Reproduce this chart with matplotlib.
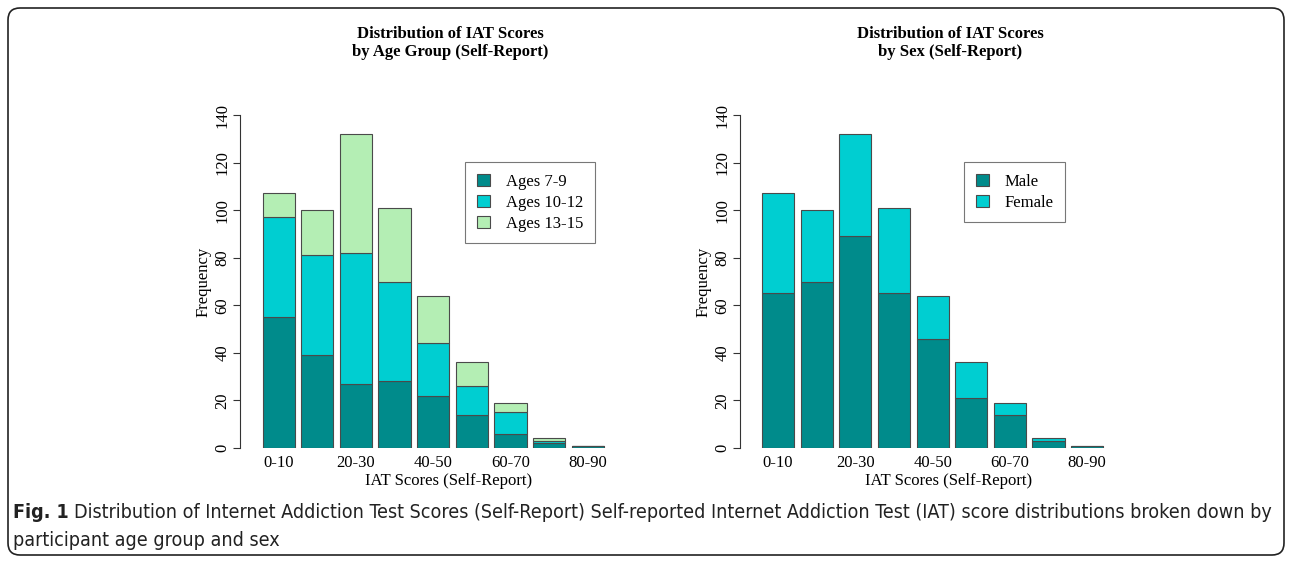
import matplotlib
matplotlib.use("Agg")
import matplotlib.pyplot as plt
from matplotlib.patches import FancyBboxPatch, Patch
import numpy as np

# ---- data ----
bins = ["0-10", "10-20", "20-30", "30-40", "40-50", "50-60", "60-70", "70-80", "80-90"]
age_7_9 = [55, 39, 27, 28, 22, 14, 6, 2, 1]
age_10_12 = [42, 42, 55, 42, 22, 12, 9, 1, 0]
age_13_15 = [10, 19, 50, 31, 20, 10, 4, 1, 0]
male = [65, 70, 89, 65, 46, 21, 14, 3, 1]
female = [42, 30, 43, 36, 18, 15, 5, 1, 0]
yticks = [0, 20, 40, 60, 80, 100, 120, 140]

C_DARK = "#008B8B"
C_CYAN = "#00CED1"
C_GREEN = "#B4EEB4"
EDGE = "#4a4a4a"

W, H = 1292, 563
fig = plt.figure(figsize=(W / 100, H / 100), dpi=100)
fig.patch.set_facecolor("white")

serif = ["Liberation Serif", "DejaVu Serif"]
FS = 12

def px_axes(x0, x1, ytop, ybot):
    return fig.add_axes([x0 / W, 1 - ybot / H, (x1 - x0) / W, (ybot - ytop) / H])

ppu = 32.2  # pixels per bar unit

def setup(ax, axis_px, first_bar_px, right_px, title):
    xl = 0.2 - (first_bar_px - axis_px) / ppu
    xr = 0.2 + (right_px - first_bar_px) / ppu
    ax.set_xlim(xl, xr)
    ax.set_ylim(0, 140)
    for s in ["top", "right", "bottom"]:
        ax.spines[s].set_visible(False)
    ax.spines["left"].set_color("#333333")
    ax.spines["left"].set_linewidth(0.8)
    ax.set_yticks(yticks)
    ax.set_yticklabels([str(t) for t in yticks], rotation=90, va="center",
                       family=serif, fontsize=FS, fontweight="normal")
    ax.tick_params(axis="y", length=5, width=0.8, color="#333333", pad=2)
    pos = 0.7 + 1.2 * np.arange(len(bins))
    shown = [i for i in range(len(bins)) if i % 2 == 0]
    ax.set_xticks(pos[shown])
    ax.set_xticklabels([bins[i] for i in shown], family=serif, fontsize=FS,
                       fontweight="normal")
    ax.tick_params(axis="x", length=0, pad=5)
    ax.set_ylabel("Frequency", family=serif, fontsize=FS, fontweight="normal")
    ax.set_xlabel("IAT Scores (Self-Report)", family=serif, fontsize=FS,
                  fontweight="normal")
    wpx = right_px - axis_px
    ax.yaxis.set_label_coords(-28 / wpx, 0.5)
    ax.xaxis.set_label_coords(209 / wpx, -(473 - 448) / 333)
    ax.text(210 / wpx, (448 - 43) / 333, title, transform=ax.transAxes, ha="center",
            va="center", family=serif, fontsize=FS, fontweight="bold",
            linespacing=1.25)
    return pos

leg_kw = dict(loc="upper left", borderaxespad=0, fancybox=False,
              edgecolor="#555555", prop={"family": serif, "size": FS},
              handlelength=0.8, handleheight=0.75, handletextpad=0.95,
              labelspacing=0.3, borderpad=0.7)

# ---- left chart ----
axL = px_axes(240, 644, 115, 448)
pos = setup(axL, 240, 262.5, 644, "Distribution of IAT Scores\nby Age Group (Self-Report)")
a1 = np.array(age_7_9); a2 = np.array(age_10_12); a3 = np.array(age_13_15)
kw = dict(width=1.0, edgecolor=EDGE, linewidth=0.8)
axL.bar(pos, a1, color=C_DARK, **kw)
axL.bar(pos, a2, bottom=a1, color=C_CYAN, **kw)
axL.bar(pos, a3, bottom=a1 + a2, color=C_GREEN, **kw)
handles = [Patch(facecolor=C_DARK, edgecolor=EDGE, lw=0.8),
           Patch(facecolor=C_CYAN, edgecolor=EDGE, lw=0.8),
           Patch(facecolor=C_GREEN, edgecolor=EDGE, lw=0.8)]
leg = axL.legend(handles, ["Ages 7-9", "Ages 10-12", "Ages 13-15"],
                 bbox_to_anchor=((465 - 240) / 404, (448 - 162) / 333), **leg_kw)
leg.get_frame().set_linewidth(0.8)

# ---- right chart ----
axR = px_axes(740, 1156, 115, 448)
pos = setup(axR, 740, 762, 1156, "Distribution of IAT Scores\nby Sex (Self-Report)")
m = np.array(male); f = np.array(female)
axR.bar(pos, m, color=C_DARK, **kw)
axR.bar(pos, f, bottom=m, color=C_CYAN, **kw)
handles = [Patch(facecolor=C_DARK, edgecolor=EDGE, lw=0.8),
           Patch(facecolor=C_CYAN, edgecolor=EDGE, lw=0.8)]
leg = axR.legend(handles, ["Male", "Female"],
                 bbox_to_anchor=((964 - 740) / 416, (448 - 162) / 333), **leg_kw)
leg.get_frame().set_linewidth(0.8)

# ---- outer rounded border ----
border = FancyBboxPatch((8, 8), W - 16, H - 16,
                        boxstyle="round,pad=0,rounding_size=12",
                        transform=None, facecolor="none",
                        edgecolor="#222222", linewidth=1.2)
fig.patches.append(border)

# ---- caption ----
cap_fam = ["DejaVu Sans"]
cap1 = "Distribution of Internet Addiction Test Scores (Self-Report) Self-reported Internet Addiction Test (IAT) score distributions broken down by"
cap2 = "participant age group and sex"
fig.canvas.draw()
r = fig.canvas.get_renderer()
cs = 13
tb = fig.text(13 / W, 1 - 512 / H, "Fig. 1", family=cap_fam, fontsize=cs,
              fontweight="bold", fontstretch="condensed", va="center", ha="left", color="#222222")
tr = fig.text(0, 1 - 512 / H, cap1, family=cap_fam, fontsize=cs, fontstretch="condensed",
              va="center", ha="left", color="#222222")
b1 = tb.get_window_extent(renderer=r)
b2 = tr.get_window_extent(renderer=r)
total = b1.width + 5 + b2.width
cs = cs * (1274 - 13) / total
tb.set_fontsize(cs)
tr.set_fontsize(cs)
b1 = tb.get_window_extent(renderer=r)
tr.set_x((b1.x1 + 5 * cs / 13) / W)
fig.text(13 / W, 1 - 541 / H, cap2, family=cap_fam, fontsize=cs, fontstretch="condensed",
         va="center", ha="left", color="#222222")

fig.savefig("out.png", dpi=100)
